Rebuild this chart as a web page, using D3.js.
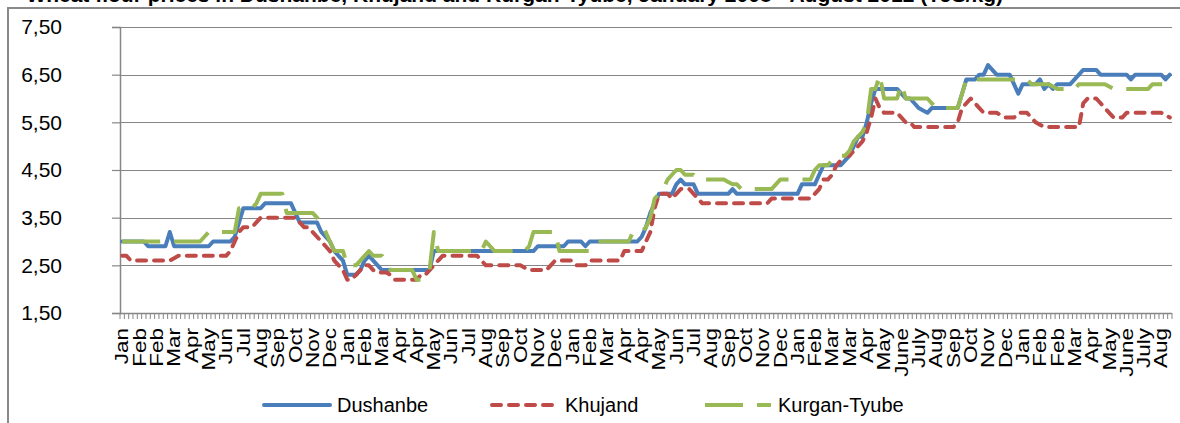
<!DOCTYPE html>
<html><head><meta charset="utf-8">
<script src="https://cdn.jsdelivr.net/npm/d3@7"></script>
<style>
html,body{margin:0;padding:0;background:#fff;}
svg{display:block;}
</style></head>
<body>
<svg id="chart" width="1180" height="423"></svg>
<script>
// ---- data ----
const seriesNames = ["Dushanbe", "Khujand", "Kurgan-Tyube"];
const xLabels = [
 "Jan","Feb","Feb","Mar","Apr","May","Jun","Jul","Aug","Sep","Oct","Nov","Dec",
 "Jan","Feb","Mar","Apr","Apr","May","Jun","Jul","Aug","Sep","Oct","Nov","Dec",
 "Jan","Feb","Mar","Apr","Apr","May","Jun","Jul","Aug","Sep","Oct","Nov","Dec",
 "Jan","Feb","Mar","Mar","Apr","May","June","July","Aug","Sep","Oct","Nov","Dec",
 "Jan","Feb","Feb","Mar","Apr","May","June","July","Aug"
];
const yTicks = [1.5, 2.5, 3.5, 4.5, 5.5, 6.5, 7.5];
const dushanbe = [
 3.0,3.0,3.0,3.0,3.0,3.0,2.9,2.9,2.9,2.9,
 2.9,3.2,2.9,2.9,2.9,2.9,2.9,2.9,2.9,2.9,
 2.9,3.0,3.0,3.0,3.0,3.0,3.1,3.4,3.7,3.7,
 3.7,3.7,3.7,3.8,3.8,3.8,3.8,3.8,3.8,3.8,
 3.6,3.4,3.4,3.4,3.4,3.4,3.2,3.1,3.0,2.8,
 2.7,2.6,2.3,2.3,2.3,2.4,2.6,2.7,2.6,2.5,
 2.4,2.4,2.4,2.4,2.4,2.4,2.4,2.4,2.4,2.4,
 2.4,2.4,2.8,2.8,2.8,2.8,2.8,2.8,2.8,2.8,
 2.8,2.8,2.8,2.8,2.8,2.8,2.8,2.8,2.8,2.8,
 2.8,2.8,2.8,2.8,2.8,2.8,2.9,2.9,2.9,2.9,
 2.9,2.9,2.9,3.0,3.0,3.0,3.0,2.9,3.0,3.0,
 3.0,3.0,3.0,3.0,3.0,3.0,3.0,3.0,3.0,3.0,
 3.1,3.3,3.6,3.8,4.0,4.0,4.0,4.0,4.2,4.3,
 4.2,4.2,4.2,4.0,4.0,4.0,4.0,4.0,4.0,4.0,
 4.0,4.1,4.0,4.0,4.0,4.0,4.0,4.0,4.0,4.0,
 4.0,4.0,4.0,4.0,4.0,4.0,4.0,4.2,4.2,4.2,
 4.2,4.4,4.6,4.6,4.6,4.6,4.6,4.7,4.8,5.0,
 5.2,5.2,5.5,5.9,6.2,6.2,6.2,6.2,6.2,6.2,
 6.1,6.0,6.0,5.9,5.8,5.75,5.7,5.8,5.8,5.8,
 5.8,5.8,5.8,5.8,6.1,6.4,6.4,6.4,6.5,6.5,
 6.7,6.6,6.5,6.5,6.5,6.5,6.3,6.1,6.3,6.3,
 6.3,6.3,6.4,6.2,6.3,6.2,6.3,6.3,6.3,6.3,
 6.4,6.5,6.6,6.6,6.6,6.6,6.5,6.5,6.5,6.5,
 6.5,6.5,6.5,6.4,6.5,6.5,6.5,6.5,6.5,6.5,
 6.5,6.4,6.5
];
const khujand = [
 2.7,2.7,2.6,2.6,2.6,2.6,2.6,2.6,2.6,2.6,
 2.6,2.6,2.65,2.7,2.7,2.7,2.7,2.7,2.7,2.7,
 2.7,2.7,2.7,2.7,2.7,2.8,3.0,3.2,3.3,3.3,
 3.3,3.4,3.5,3.5,3.5,3.5,3.5,3.5,3.5,3.5,
 3.5,3.4,3.3,3.3,3.2,3.1,3.0,2.9,2.8,2.6,
 2.5,2.4,2.2,2.2,2.3,2.4,2.5,2.5,2.4,2.35,
 2.35,2.35,2.3,2.2,2.2,2.2,2.2,2.2,2.2,2.3,
 2.3,2.4,2.5,2.6,2.7,2.7,2.7,2.7,2.7,2.7,
 2.7,2.7,2.7,2.6,2.5,2.5,2.5,2.5,2.5,2.5,
 2.5,2.5,2.5,2.45,2.4,2.4,2.4,2.4,2.4,2.5,
 2.6,2.6,2.6,2.6,2.6,2.5,2.5,2.5,2.6,2.6,
 2.6,2.6,2.6,2.6,2.6,2.6,2.8,2.8,2.8,2.8,
 2.8,3.0,3.2,3.7,4.0,4.0,4.0,3.9,4.0,4.1,
 4.1,4.1,4.0,3.9,3.8,3.8,3.8,3.8,3.8,3.8,
 3.8,3.8,3.8,3.8,3.8,3.8,3.8,3.8,3.8,3.8,
 3.9,3.9,3.9,3.9,3.9,3.9,3.9,3.9,3.9,3.9,
 4.0,4.1,4.3,4.3,4.4,4.6,4.7,4.8,4.8,4.9,
 5.0,5.1,5.3,5.6,6.0,5.8,5.7,5.7,5.7,5.7,
 5.6,5.5,5.5,5.4,5.4,5.4,5.4,5.4,5.4,5.4,
 5.4,5.4,5.4,5.5,5.8,5.9,6.0,5.9,5.8,5.7,
 5.7,5.7,5.7,5.65,5.6,5.6,5.6,5.7,5.7,5.7,
 5.6,5.5,5.45,5.4,5.4,5.4,5.4,5.4,5.4,5.4,
 5.4,5.4,5.9,6.0,6.0,6.0,5.9,5.8,5.7,5.6,
 5.6,5.6,5.7,5.7,5.7,5.7,5.7,5.7,5.7,5.7,
 5.7,5.65,5.6
];
const kurganTyube = [
 3.0,3.0,3.0,3.0,3.0,3.0,3.0,3.0,3.0,3.0,
 3.0,3.0,3.0,3.0,3.0,3.0,3.0,3.0,3.0,3.1,
 3.2,3.2,3.2,3.2,3.2,3.2,3.2,3.7,3.7,3.7,
 3.7,3.8,4.0,4.0,4.0,4.0,4.0,4.0,3.6,3.6,
 3.6,3.6,3.6,3.6,3.6,3.5,3.4,3.2,3.0,2.8,
 2.8,2.8,2.5,2.5,2.5,2.6,2.7,2.8,2.7,2.7,
 2.7,2.5,2.4,2.4,2.4,2.4,2.4,2.4,2.2,2.2,
 2.3,2.4,3.2,2.8,2.8,2.8,2.8,2.8,2.8,2.8,
 2.8,2.8,2.8,2.8,3.0,2.9,2.8,2.8,2.8,2.8,
 2.8,2.8,2.8,2.8,2.9,3.2,3.2,3.2,3.2,3.2,
 3.2,2.8,2.8,2.8,2.8,2.8,2.8,2.8,2.8,2.9,
 3.0,3.0,3.0,3.0,3.0,3.0,3.0,3.0,3.2,3.2,
 3.2,3.3,3.5,3.9,4.0,4.1,4.3,4.4,4.5,4.5,
 4.4,4.4,4.4,4.3,4.3,4.3,4.3,4.3,4.3,4.3,
 4.25,4.2,4.2,4.1,4.1,4.1,4.1,4.1,4.1,4.1,
 4.1,4.2,4.3,4.3,4.3,4.3,4.3,4.3,4.3,4.3,
 4.5,4.6,4.6,4.6,4.7,4.8,4.8,4.8,4.9,5.1,
 5.2,5.3,5.5,6.2,6.2,6.5,6.0,6.0,6.0,6.0,
 6.3,6.0,6.0,6.0,6.0,6.0,6.0,5.9,5.8,5.8,
 5.8,5.8,5.8,5.8,6.1,6.4,6.4,6.4,6.4,6.4,
 6.4,6.4,6.4,6.4,6.4,6.4,6.4,6.4,6.4,6.4,
 6.3,6.3,6.3,6.3,6.3,6.25,6.2,6.2,6.2,6.2,
 6.2,6.3,6.3,6.3,6.3,6.3,6.3,6.3,6.25,6.2,
 6.2,6.2,6.2,6.2,6.2,6.2,6.2,6.2,6.3,6.3,
 6.3,6.3,6.3
];
const titleText = "Wheat flour prices in Dushanbe, Khujand and Kurgan-Tyube, January 2008 - August 2012 (TJS/kg)";

// ---- layout ----
const svg = d3.select("#chart");
const W = 1180, H = 423;
const plot = {left: 120, right: 1172, top: 27, bottom: 313};
const gridColor = "#868686";
const colors = ["#4a7ebb", "#be4b48", "#98b954"];
const dashes = [null, "9,8", "38,14"];
const caps = ["round", "round", "butt"];
const series = [dushanbe, khujand, kurganTyube];

svg.append("rect").attr("width", W).attr("height", H).attr("fill", "#fff");

// title (cut off at the top edge, as in the reference)
svg.append("text")
  .attr("x", 1003).attr("y", 1.5)
  .attr("text-anchor", "end")
  .attr("font-family", "Liberation Sans, Arial, sans-serif")
  .attr("font-weight", "bold").attr("font-size", 21)
  .attr("fill", "#000")
  .text(titleText);

// chart border
svg.append("rect")
  .attr("x", 8).attr("y", 8).attr("width", W + 20).attr("height", H + 20)
  .attr("fill", "none").attr("stroke", "#898989").attr("stroke-width", 2);

const N = dushanbe.length;
const x = d3.scaleBand().domain(d3.range(N)).range([plot.left, plot.right]).paddingInner(0).paddingOuter(0);
const y = d3.scaleLinear().domain([1.5, 7.5]).range([plot.bottom, plot.top]);
const cx = i => x(i) + x.bandwidth() / 2;

// gridlines
svg.append("g").selectAll("line").data(yTicks.slice(1)).join("line")
  .attr("x1", plot.left).attr("x2", plot.right)
  .attr("y1", d => Math.round(y(d)) + 0.5).attr("y2", d => Math.round(y(d)) + 0.5)
  .attr("stroke", gridColor).attr("stroke-width", 1.2);

// y axis
const yAxis = d3.axisLeft(y).tickValues(yTicks).tickSize(8).tickPadding(50)
  .tickFormat(d => d.toFixed(2).replace(".", ","));
const gy = svg.append("g").attr("transform", `translate(${plot.left},0)`).call(yAxis);
gy.select(".domain").attr("stroke", gridColor).attr("stroke-width", 1.5);
gy.selectAll(".tick line").attr("stroke", gridColor).attr("stroke-width", 1.2);
gy.selectAll(".tick text")
  .attr("font-family", "Liberation Sans, Arial, sans-serif")
  .attr("font-size", 21).attr("fill", "#000")
  .attr("x", -58);

// x axis line
svg.append("line")
  .attr("x1", plot.left).attr("x2", plot.right)
  .attr("y1", plot.bottom + 0.5).attr("y2", plot.bottom + 0.5)
  .attr("stroke", gridColor).attr("stroke-width", 1.5);

// x tick marks at category boundaries
const boundaries = d3.range(N + 1).map(i => i < N ? x(i) : plot.right);
svg.append("g").selectAll("line").data(boundaries).join("line")
  .attr("x1", d => d).attr("x2", d => d)
  .attr("y1", plot.bottom).attr("y2", plot.bottom + 6)
  .attr("stroke", gridColor).attr("stroke-width", 1);

// x labels every 4th category
const labelIdx = xLabels.map((_, k) => k * 4);
svg.append("g").selectAll("text").data(labelIdx).join("text")
  .attr("transform", (d) => `translate(${cx(d)},${plot.bottom + 15}) rotate(-90) scale(1,0.8)`)
  .attr("text-anchor", "end")
  .attr("dy", "0.35em")
  .attr("font-family", "Liberation Sans, Arial, sans-serif")
  .attr("font-size", 22.5).attr("fill", "#000")
  .text((d, k) => xLabels[k]);

// series lines
const line = d3.line().x((d, i) => cx(i)).y(d => y(d));
series.forEach((s, k) => {
  svg.append("path")
    .datum(s)
    .attr("d", line)
    .attr("fill", "none")
    .attr("stroke", colors[k])
    .attr("stroke-width", 4)
    .attr("stroke-linejoin", "round")
    .attr("stroke-linecap", caps[k])
    .attr("stroke-dasharray", dashes[k]);
});

// legend
const legendX = [264, 492, 705];
const legendY = 405;
const lg = svg.append("g");
seriesNames.forEach((name, k) => {
  lg.append("line")
    .attr("x1", legendX[k]).attr("x2", legendX[k] + 66)
    .attr("y1", legendY).attr("y2", legendY)
    .attr("stroke", colors[k]).attr("stroke-width", 4)
    .attr("stroke-linecap", caps[k])
    .attr("stroke-dasharray", dashes[k]);
  lg.append("text")
    .attr("x", legendX[k] + 73).attr("y", legendY)
    .attr("dy", "0.35em")
    .attr("font-family", "Liberation Sans, Arial, sans-serif")
    .attr("font-size", 20).attr("fill", "#000")
    .text(name);
});
</script>
</body></html>
